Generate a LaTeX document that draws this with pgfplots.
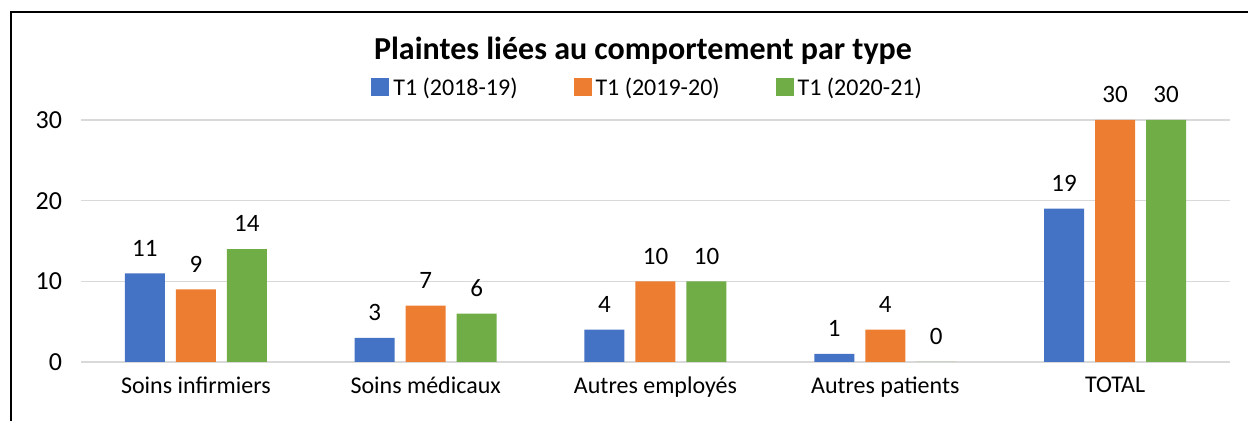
\documentclass[border=0pt]{standalone}
\usepackage{pgfplots}
\pgfplotsset{compat=1.18}
\usepackage{fontspec}
\setmainfont{Carlito}
\definecolor{cblue}{HTML}{4472C4}
\definecolor{corange}{HTML}{ED7D31}
\definecolor{cgreen}{HTML}{70AD47}
\definecolor{cgrid}{HTML}{D9D9D9}
\begin{document}
\begin{tikzpicture}
\path[use as bounding box] (0,0) rectangle (624pt,210.5pt);
\draw[line width=0.9pt] (5.5pt,0) -- (5.5pt,204.5pt) -- (624pt,204.5pt);
\node[font=\fontsize{16}{18}\selectfont\bfseries] at (321.5pt,185pt) {Plaintes liées au comportement par type};
\begin{axis}[
  at={(40.5pt,29.5pt)}, anchor=south west,
  scale only axis, width=574.5pt, height=121pt,
  ymin=0, ymax=30, xmin=-0.5, xmax=4.5,
  ybar=5.5pt, bar width=20pt,
  ytick={0,10,20,30},
  xtick=data,
  xticklabels={Soins infirmiers, Soins médicaux, Autres employés, Autres patients, TOTAL},
  /pgf/number format/assume math mode=true,
  ymajorgrids, grid style={cgrid, line width=0.8pt},
  axis line style={draw=none},
  major tick length=0pt,
  tick label style={font=\fontsize{12}{14}\selectfont},
  yticklabel style={font=\fontsize{13}{15}\selectfont, xshift=-6pt},
  xticklabel style={yshift=-4pt},
  clip=false,
  nodes near coords,
  every node near coord/.append style={font=\fontsize{12.5}{14}\selectfont, black, yshift=5pt},
  legend columns=3,
  legend style={at={(0.494,1.132)}, anchor=center, draw=none, fill=none,
    font=\fontsize{12}{14}\selectfont,
    /tikz/every even column/.append style={column sep=26pt}},
  legend image code/.code={\fill[#1] (0pt,-4pt) rectangle (9pt,5pt);},
]
\addplot[fill=cblue, draw=none] coordinates {(0,11) (1,3) (2,4) (3,1) (4,19)};
\addplot[fill=corange, draw=none] coordinates {(0,9) (1,7) (2,10) (3,4) (4,30)};
\addplot[fill=cgreen, draw=none] coordinates {(0,14) (1,6) (2,10) (3,0) (4,30)};
\legend{T1 (2018-19), T1 (2019-20), T1 (2020-21)}
\end{axis}
\end{tikzpicture}
\end{document}
